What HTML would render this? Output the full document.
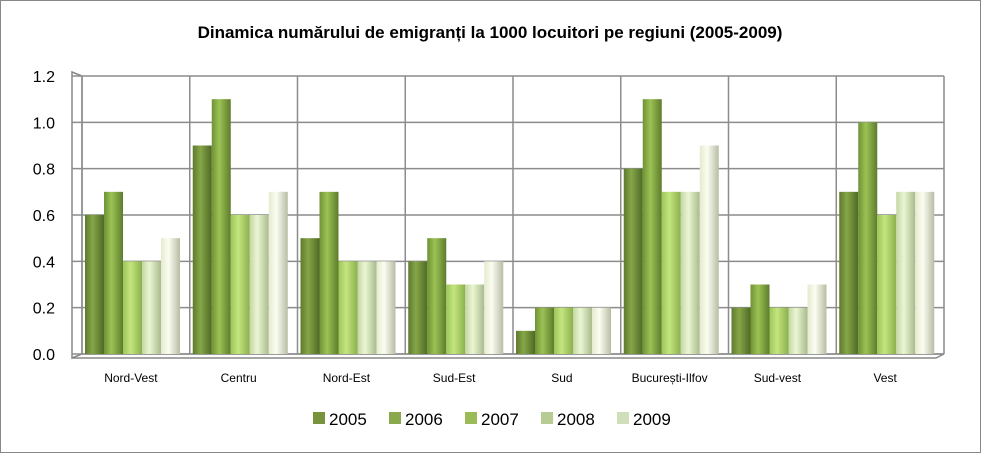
<!DOCTYPE html>
<html><head><meta charset="utf-8"><style>
body{margin:0;background:#fff;}
svg{display:block;font-family:"Liberation Sans",sans-serif;}
</style></head><body>
<svg id="chart" width="981" height="453">
<defs>
<linearGradient id="g0" x1="0" x2="1"><stop offset="0" stop-color="#5d7a2e"/><stop offset="0.4" stop-color="#86a648"/><stop offset="1" stop-color="#4e6a25"/></linearGradient>
<linearGradient id="g1" x1="0" x2="1"><stop offset="0" stop-color="#6f9235"/><stop offset="0.4" stop-color="#9cc255"/><stop offset="1" stop-color="#5d7c2b"/></linearGradient>
<linearGradient id="g2" x1="0" x2="1"><stop offset="0" stop-color="#9cc65a"/><stop offset="0.4" stop-color="#c4e57f"/><stop offset="1" stop-color="#8ab04d"/></linearGradient>
<linearGradient id="g3" x1="0" x2="1"><stop offset="0" stop-color="#c4d6a4"/><stop offset="0.4" stop-color="#eaf6d2"/><stop offset="1" stop-color="#a9ba8c"/></linearGradient>
<linearGradient id="g4" x1="0" x2="1"><stop offset="0" stop-color="#e4ebd0"/><stop offset="0.4" stop-color="#fbfdf0"/><stop offset="1" stop-color="#b7bda4"/></linearGradient>
</defs>
<rect x="0.5" y="0.5" width="980" height="452" fill="#fff" stroke="#888"/>
<text x="490" y="38" text-anchor="middle" font-size="17" font-weight="bold">Dinamica numărului de emigranți la 1000 locuitori pe regiuni (2005-2009)</text>
<g id="grid"></g><g id="bars"></g><g id="legend"></g>
</svg>
<script>
const categories=["Nord-Vest","Centru","Nord-Est","Sud-Est","Sud","București-Ilfov","Sud-vest","Vest"];
const years=["2005","2006","2007","2008","2009"];
const s2005=[0.6,0.9,0.5,0.4,0.1,0.8,0.2,0.7];
const s2006=[0.7,1.1,0.7,0.5,0.2,1.1,0.3,1.0];
const s2007=[0.4,0.6,0.4,0.3,0.2,0.7,0.2,0.6];
const s2008=[0.4,0.6,0.4,0.3,0.2,0.7,0.2,0.7];
const s2009=[0.5,0.7,0.4,0.4,0.2,0.9,0.3,0.7];
const ticks=["0.0","0.2","0.4","0.6","0.8","1.0","1.2"];
const series=[s2005,s2006,s2007,s2008,s2009];
const legendColors=["#77933c","#8aa84d","#9bbb59","#b7cc93","#d0dfb9"];
const NS="http://www.w3.org/2000/svg";
const X0=82,X1=944,Y0=354,Y1=76,YMAX=1.2;
const cw=(X1-X0)/categories.length;
const y=v=>Y0-(v/YMAX)*(Y0-Y1);
function mk(t,a,p){const e=document.createElementNS(NS,t);for(const k in a)e.setAttribute(k,a[k]);p.appendChild(e);return e;}
const grid=document.getElementById('grid'),bars=document.getElementById('bars'),leg=document.getElementById('legend');
// walls
let w=mk('path',{d:`M72,${Y1-4} L${X0},${Y1} L${X0},${Y0} L72,${Y0+4} Z`,fill:'none',stroke:'#888','stroke-width':1.5},grid);

let fl=mk('path',{d:`M72,${Y0+4} L${X1-8},${Y0+4} L${X1},${Y0} L${X0},${Y0}`,fill:'none',stroke:'#888','stroke-width':1.5},grid);

ticks.forEach(t=>{const v=parseFloat(t),yy=y(v);
 const l=mk('path',{d:`M72,${yy+4*(1-0)*(v===0?1:0)+ (v===0?0:0)} M72,${yy-0+ (0)} L${X0},${yy} L${X1},${yy}`,fill:'none',stroke:'#8c8c8c','stroke-width':1.5},grid);
 
 const tx=mk('text',{x:55,y:yy+6,'text-anchor':'end','font-size':16},grid);tx.textContent=t;
 
});
for(let i=0;i<=categories.length;i++){const xx=X0+i*cw;
 const l=mk('line',{x1:xx,y1:Y1,x2:xx,y2:Y0,stroke:'#8c8c8c','stroke-width':1.5},grid);
 }
categories.forEach((c,i)=>{const cx=X0+i*cw;
 series.forEach((s,j)=>{const bx=cx+3+j*19,by=y(s[i]);
  const r=mk('rect',{x:bx,y:by,width:19,height:Y0-by,fill:`url(#g${j})`},bars);
  });
 const t=mk('text',{x:cx+cw/2-5,y:382,'text-anchor':'middle','font-size':12},bars);t.textContent=c;
 
});
years.forEach((yr,j)=>{const lx=313+j*76;
 const r=mk('rect',{x:lx,y:412,width:12,height:12,fill:legendColors[j]},leg);
 
 const t=mk('text',{x:lx+16,y:425,'font-size':17},leg);t.textContent=yr;
 
});
</script>
</body></html>
